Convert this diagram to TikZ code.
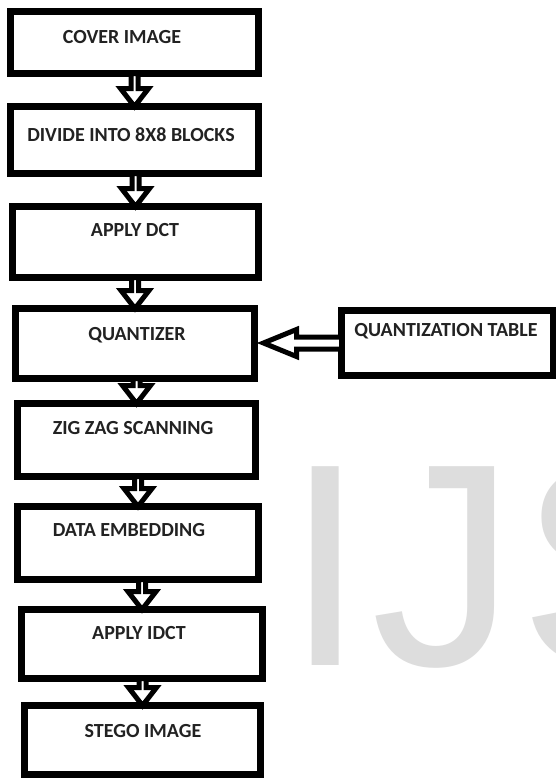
\documentclass[tikz,border=0pt]{standalone}
\usepackage{fontspec}
\setmainfont{Carlito}
\newfontfamily\wmfont{Liberation Sans}
\usetikzlibrary{calc}
\definecolor{wm}{HTML}{DDDDDD}
\definecolor{txt}{HTML}{222222}
\tikzset{
  box/.style={draw=black, line width=7pt, fill=white, rectangle, inner sep=0pt, outer sep=0pt},
  lbl/.style={anchor=base, font=\bfseries\fontsize{20}{20}\selectfont, text=txt, inner sep=0pt},
  barrow/.style={draw=black, line width=5pt, fill=white, line join=miter},
  wmark/.style={anchor=base west, font=\wmfont\fontsize{289}{289}\selectfont, text=wm, inner sep=0pt},
}
\newcommand\blockdown[3]{%
  \begin{scope}[xshift=#3]
  \path[barrow] let \p1=(#1.south), \p2=(#2.north) in
    (\x2-3.5pt,\y1) -- (\x2+3.5pt,\y1) -- (\x2+3.5pt,\y2+18pt) -- (\x2+14pt,\y2+18pt)
    -- (\x2,\y2) -- (\x2-14pt,\y2+18pt) -- (\x2-3.5pt,\y2+18pt) -- cycle;
  \end{scope}}
\begin{document}
\begin{tikzpicture}[x=1pt,y=-1pt]
\useasboundingbox (0,0) rectangle (556,779);
\clip (0,0) rectangle (556,779);
\fill[white] (0,0) rectangle (556,779);
% watermark
\node[wmark] (wI) at (285,665) {I};
\node[wmark] (wJ) at (371,665) {J};
\node[wmark] (wS) at (519,665) {S};
% boxes
\node[box, minimum width=248pt, minimum height=62pt] (b1) at (134.5,42.5) {};
\node[box, minimum width=248pt, minimum height=67pt] (b2) at (134.5,140) {};
\node[box, minimum width=246pt, minimum height=71pt] (b3) at (135.5,242) {};
\node[box, minimum width=239pt, minimum height=70pt] (b4) at (135,343.5) {};
\node[box, minimum width=212pt, minimum height=65pt] (qt) at (447.5,343) {};
\node[box, minimum width=238pt, minimum height=73pt] (b5) at (136.5,440) {};
\node[box, minimum width=241pt, minimum height=73pt] (b6) at (138,543) {};
\node[box, minimum width=241pt, minimum height=69pt] (b7) at (142,644) {};
\node[box, minimum width=236pt, minimum height=69pt] (b8) at (142.5,740) {};
% labels
\node[lbl] (t1) at (122,43) {COVER IMAGE};
\node[lbl] (t2) at (131,141) {DIVIDE INTO 8X8 BLOCKS};
\node[lbl] (t3) at (135,236) {APPLY DCT};
\node[lbl] (t4) at (137,340) {QUANTIZER};
\node[lbl] (tq) at (446,336) {QUANTIZATION TABLE};
\node[lbl] (t5) at (133,434) {ZIG ZAG SCANNING};
\node[lbl] (t6) at (129,536) {DATA EMBEDDING};
\node[lbl] (t7) at (139,639) {APPLY IDCT};
\node[lbl] (t8) at (143,737) {STEGO IMAGE};
% down arrows
\blockdown{b1}{b2}{-1.5pt}
\blockdown{b2}{b3}{-2pt}
\blockdown{b3}{b4}{5pt}
\blockdown{b4}{b5}{5.5pt}
\blockdown{b5}{b6}{-1pt}
\blockdown{b6}{b7}{-5pt}
\blockdown{b7}{b8}{0pt}
% left arrow from quantization table
\path[barrow] let \p1=(qt.west), \p2=(b4.east) in
  (\x1,\y1+6pt) -- (\x2+42pt,\y1+6pt) -- (\x2+42pt,\y1+13.5pt) -- (\x2+9pt,\y1)
  -- (\x2+42pt,\y1-13.5pt) -- (\x2+42pt,\y1-6pt) -- (\x1,\y1-6pt) -- cycle;
\end{tikzpicture}
\end{document}
